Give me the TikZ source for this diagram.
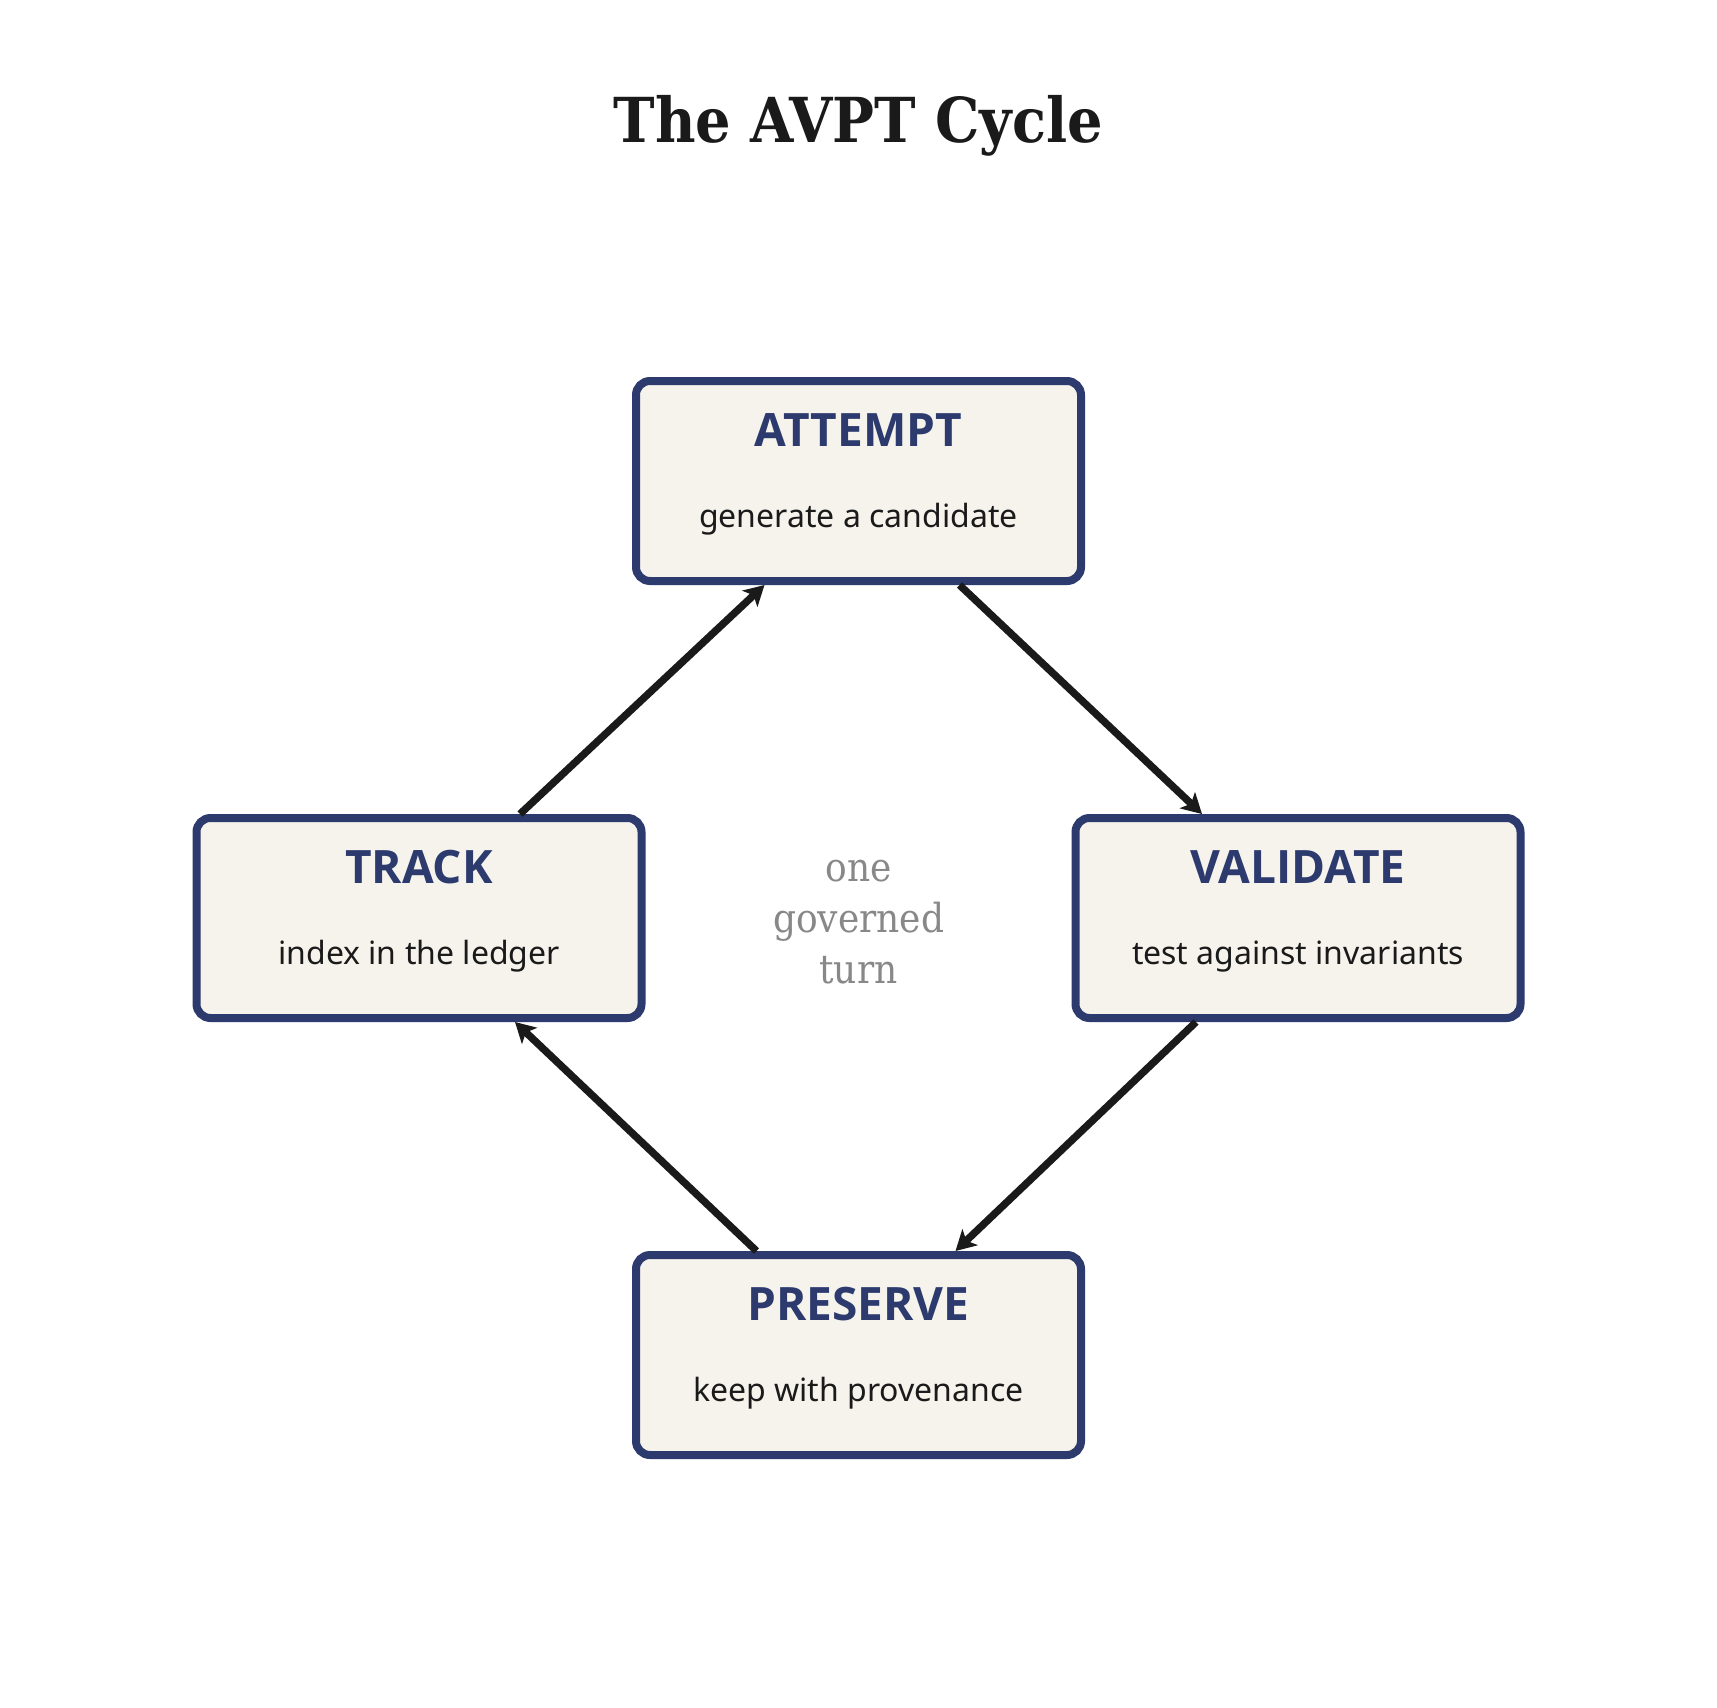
\documentclass[tikz,border=0pt]{standalone}
\usepackage{fontspec}
\setmainfont{Noto Sans}
\newfontfamily\stagebold{Open Sans}
\newfontfamily\serifc{DejaVu Serif Condensed}
\usetikzlibrary{arrows.meta}
\definecolor{navy}{HTML}{2C3A6E}
\definecolor{boxfill}{HTML}{F5F3EC}
\definecolor{ink}{HTML}{1A1A1A}
\definecolor{muted}{HTML}{888888}
\tikzset{
  stagebox/.style={draw=navy, fill=boxfill, line width=4pt, rounded corners=7pt,
    minimum width=222.5pt, minimum height=100pt, inner sep=0pt},
  stagetitle/.style={anchor=base, text=navy, inner sep=0pt,
    font=\stagebold\bfseries\fontsize{23pt}{23pt}\selectfont},
  stagesub/.style={anchor=base, text=ink, inner sep=0pt,
    font=\fontsize{16pt}{16pt}\selectfont},
  flow/.style={draw=ink, line width=3.7pt, -{Stealth[length=10pt, width=11pt, inset=2.5pt]}},
}
\begin{document}
\begin{tikzpicture}[x=0.5pt, y=-0.5pt]
\useasboundingbox[fill=white] (0,0) rectangle (1717,1707);
\node[anchor=base, text=ink, inner sep=0pt, font=\serifc\bfseries\fontsize{31pt}{31pt}\selectfont] (title) at (858.5,142) {The AVPT Cycle};

\node[stagebox] (attempt) at (858.5,481) {};
\node[stagetitle] (attemptT) at (858.5,446) {ATTEMPT};
\node[stagesub] (attemptS) at (858.5,527) {generate a candidate};

\node[stagebox] (track) at (419,918) {};
\node[stagetitle] (trackT) at (419,883) {TRACK};
\node[stagesub] (trackS) at (419,964) {index in the ledger};

\node[stagebox] (validate) at (1298,918) {};
\node[stagetitle] (validateT) at (1298,883) {VALIDATE};
\node[stagesub] (validateS) at (1298,964) {test against invariants};

\node[stagebox] (preserve) at (858.5,1355) {};
\node[stagetitle] (preserveT) at (858.5,1320) {PRESERVE};
\node[stagesub] (preserveS) at (858.5,1401) {keep with provenance};

\node[align=center, text=muted, inner sep=0pt, font=\serifc\fontsize{20pt}{25.5pt}\selectfont] (center) at (858.5,922) {one\\governed\\turn};

\draw[flow] ([xshift=50.5pt]track.north) -- ([xshift=-47pt]attempt.south);
\draw[flow] ([xshift=50.5pt]attempt.south) -- ([xshift=-48pt]validate.north);
\draw[flow] ([xshift=-51pt]validate.south) -- ([xshift=48.5pt]preserve.north);
\draw[flow] ([xshift=-51pt]preserve.north) -- ([xshift=48pt]track.south);
\end{tikzpicture}
\end{document}
